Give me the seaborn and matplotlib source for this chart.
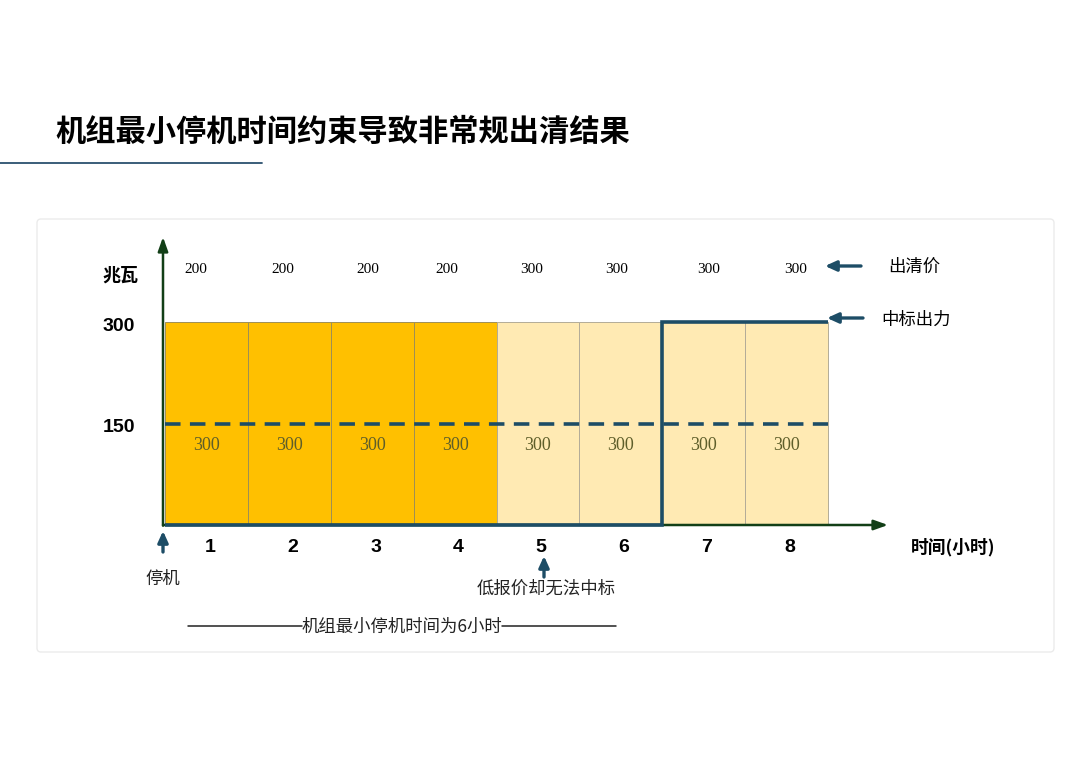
import numpy as np
import pandas as pd
import matplotlib
matplotlib.use("Agg")
import matplotlib.pyplot as plt
import matplotlib.transforms as mtransforms
from matplotlib.patches import FancyBboxPatch
import seaborn as sns

# ---- data -------------------------------------------------------------
hours = ["1", "2", "3", "4", "5", "6", "7", "8"]
offer_capacity = [300, 300, 300, 300, 300, 300, 300, 300]   # MW offered each hour
clearing_price = [200, 200, 200, 200, 300, 300, 300, 300]   # market clearing price
awarded_output = [0, 0, 0, 0, 0, 0, 300, 300]               # MW awarded
min_output = 150                                            # minimum stable output
y_ticks = [150, 300]
offline_hours = ["1", "2", "3", "4"]                        # forced off by min-downtime

# horizontal nudges (px) for the price labels above each hour
price_nudge_px = [-11, -6, -4, -8, -6, -4, 5, 9]

# ---- style ------------------------------------------------------------
sns.set_theme(style="white")
plt.rcParams["font.family"] = ["Noto Sans CJK SC", "DejaVu Sans"]
plt.rcParams["axes.unicode_minus"] = False

DARK_GOLD = "#FFC000"
LIGHT_GOLD = "#FFEAB3"
NAVY = "#1D4D66"
AXIS_GREEN = "#123F17"
OLIVE = "#5E5E2A"
BOLD_NUM = ["Liberation Sans", "DejaVu Sans"]
SERIF = ["Liberation Serif", "DejaVu Serif"]

W, H = 1080, 764
fig = plt.figure(figsize=(W / 100, H / 100), dpi=100)
fig.patch.set_facecolor("white")

# pixel-space transform for page decorations (origin top-left)
PX = mtransforms.Affine2D().scale(1 / 100, -1 / 100).translate(0, H / 100) + fig.dpi_scale_trans

# ---- page decorations -------------------------------------------------
fig.text(55, 132, "机组最小停机时间约束导致非常规出清结果", transform=PX,
         fontsize=21.8, fontweight="black", color="black", va="center", ha="left")
fig.add_artist(plt.Line2D([0, 262], [163, 163], transform=PX, color="#2B506E", lw=1.3))
card = FancyBboxPatch((37, 219), 1017, 433, boxstyle="round,pad=0,rounding_size=4",
                      transform=PX, facecolor="none", edgecolor="#EBEBEB", lw=1.0,
                      zorder=-5)
fig.add_artist(card)

# ---- chart axes -------------------------------------------------------
# bars start at x=165px, each hour 82.875px wide; y: 0 MW at 525px, 300 MW at 322px
px_per_hour = 663 / 8
px_per_mw = 203 / 300
ax = fig.add_axes([0, 0, 1, 1], zorder=2)
ax.set_facecolor("none")

df = pd.DataFrame({"hour": hours, "capacity": offer_capacity})
palette = {h: (DARK_GOLD if h in offline_hours else LIGHT_GOLD) for h in hours}
sns.barplot(data=df, x="hour", y="capacity", hue="hour", palette=palette,
            order=hours, hue_order=hours, legend=False, width=1.0, saturation=1,
            edgecolor="#9E8F55", linewidth=0.7, ax=ax)
for patch, h in zip(ax.patches, hours):
    if h not in offline_hours:
        patch.set_edgecolor("#B3AC98")

x0 = -0.5 - 165 / px_per_hour
x1 = -0.5 + (W - 165) / px_per_hour
ax.set_xlim(x0, x1)
ax.set_ylim(-(H - 525) / px_per_mw, 525 / px_per_mw)
ax.axis("off")


def dx(px):
    return -0.5 + (px - 165) / px_per_hour


def dy(py):
    return (525 - py) / px_per_mw


# axes arrows
ax.annotate("", xy=(dx(888), 0), xytext=(dx(163), 0),
            arrowprops=dict(arrowstyle="-|>,head_length=0.7,head_width=0.25",
                            color=AXIS_GREEN, lw=1.8, shrinkA=0, shrinkB=0))
ax.annotate("", xy=(dx(163), dy(237)), xytext=(dx(163), -1),
            arrowprops=dict(arrowstyle="-|>,head_length=0.7,head_width=0.25",
                            color=AXIS_GREEN, lw=1.8, shrinkA=0, shrinkB=0))

# minimum output (dashed) and awarded output (step)
pos = np.arange(len(hours))
edges = np.arange(len(hours) + 1) - 0.5
ax.hlines(min_output, edges[0], edges[-1], colors=NAVY, lw=2.6,
          linestyles=(0, (4.3, 2.6)), zorder=5)
ax.stairs(awarded_output, edges, baseline=None, color=NAVY, lw=2.6, zorder=6)

# value labels inside bars and clearing prices above
for p, cap, price, nudge in zip(pos, offer_capacity, clearing_price, price_nudge_px):
    ax.text(p, cap - 183, f"{cap}", ha="center", va="center", fontsize=13,
            color=OLIVE, family=SERIF, zorder=7)
    ax.text(p + nudge / px_per_hour, dy(269), f"{price}", ha="center", va="center",
            fontsize=11, color="black", family=SERIF)

# hour tick labels
for p, h in zip(pos, hours):
    ax.text(p + 0.04, dy(548), h, ha="center", va="center", fontsize=14,
            fontweight="bold", family=BOLD_NUM, color="black")

# y tick labels and units
for v in y_ticks:
    ax.text(dx(119), v - 4 / px_per_mw, f"{v}", ha="center", va="center", fontsize=14,
            fontweight="bold", family=BOLD_NUM, color="black")
ax.text(dx(120), dy(275), "兆瓦", ha="center", va="center", fontsize=13,
        fontweight="bold", color="black")
ax.text(dx(953), dy(547), "时间(小时)", ha="center", va="center", fontsize=12.8,
        fontweight="bold", color="black")

# right-hand callouts
arrow_kw = dict(arrowstyle="-|>,head_length=0.55,head_width=0.25", color=NAVY,
                lw=2.4, shrinkA=0, shrinkB=0)
ax.annotate("", xy=(dx(825), dy(266)), xytext=(dx(861), dy(266)), arrowprops=arrow_kw)
ax.text(dx(914), dy(267), "出清价", ha="center", va="center", fontsize=12.5, color="black")
ax.annotate("", xy=(dx(827), dy(318)), xytext=(dx(863), dy(318)), arrowprops=arrow_kw)
ax.text(dx(916), dy(320), "中标出力", ha="center", va="center", fontsize=12.5, color="black")

# bottom callouts
ax.annotate("", xy=(dx(163), dy(531)), xytext=(dx(163), dy(552)), arrowprops=arrow_kw)
ax.text(dx(163), dy(579), "停机", ha="center", va="center", fontsize=12.5, color="#222222")
ax.annotate("", xy=(dx(544), dy(556)), xytext=(dx(544), dy(577)), arrowprops=arrow_kw)
ax.text(dx(546), dy(589), "低报价却无法中标", ha="center", va="center", fontsize=12.5,
        color="#222222")

# minimum downtime span
ax.plot([dx(188), dx(302)], [dy(626), dy(626)], color="#222222", lw=1.1)
ax.plot([dx(502), dx(616)], [dy(626), dy(626)], color="#222222", lw=1.1)
ax.text(dx(402), dy(627), "机组最小停机时间为6小时", ha="center", va="center",
        fontsize=12.5, color="#222222")

fig.savefig("out.png", dpi=100, facecolor="white")
